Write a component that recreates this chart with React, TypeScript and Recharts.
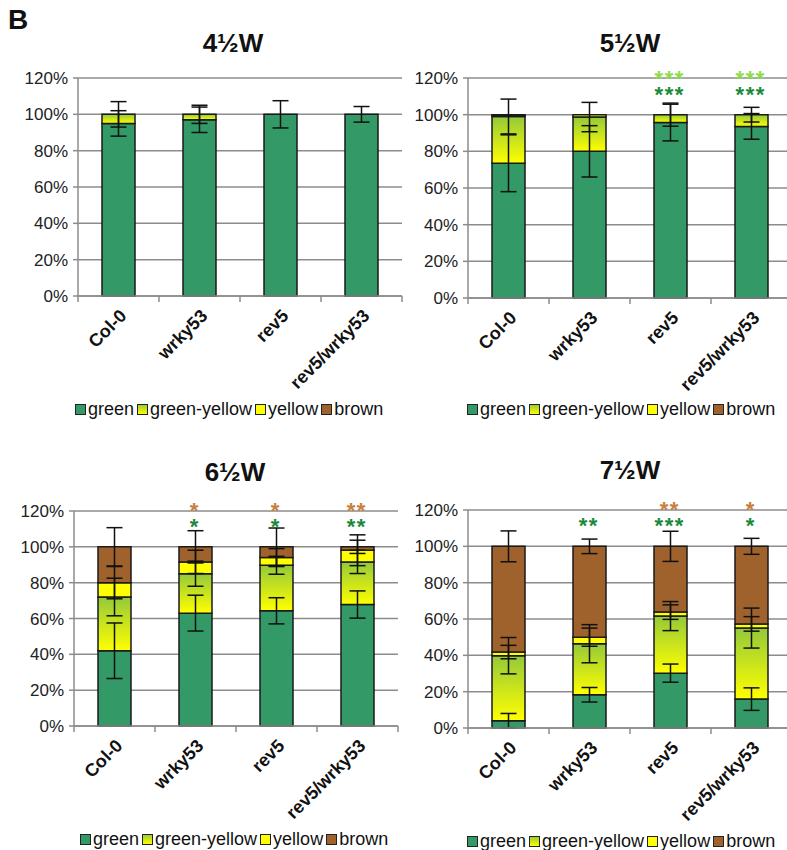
import { BarChart, Bar, XAxis, YAxis, CartesianGrid, ErrorBar, LabelList } from 'recharts';

const categories = ['Col-0', 'wrky53', 'rev5', 'rev5/wrky53'];
const yTicks = [0, 20, 40, 60, 80, 100, 120];

// 4½W
const w4Green = [95, 97, 100, 100];
const w4GreenYellow = [5, 3, 0, 0];
const w4Yellow = [0, 0, 0, 0];
const w4Brown = [0, 0, 0, 0];
const w4GreenErr = [7, 7, 7.5, 4.3];
const w4GreenYellowErr = [7, 5, 0, 0];
const w4YellowErr = [0, 0, 0, 0];
const w4BrownErr = [0, 0, 0, 0];
const w4SigLow = ['', '', '', ''];
const w4SigHigh = ['', '', '', ''];

// 5½W
const w5Green = [73.5, 80, 95.7, 93.6];
const w5GreenYellow = [25.5, 18.7, 4.3, 6.4];
const w5Yellow = [0.5, 1.3, 0, 0];
const w5Brown = [0.5, 0, 0, 0];
const w5GreenErr = [15.5, 14, 10, 7];
const w5GreenYellowErr = [9.5, 8, 6.3, 4];
const w5YellowErr = [0, 0, 0, 0];
const w5BrownErr = [0, 0, 0, 0];
const w5SigLow = ['', '', '***', '***'];
const w5SigHigh = ['', '', '***', '***'];

// 6½W
const w6Green = [42, 63, 64.3, 67.8];
const w6GreenYellow = [30, 22, 25.4, 23.8];
const w6Yellow = [8, 6.6, 4.3, 6.5];
const w6Brown = [20, 8.4, 6, 1.9];
const w6GreenErr = [15.5, 10, 7.3, 7.6];
const w6GreenYellowErr = [10.5, 7, 5, 6.5];
const w6YellowErr = [9, 6.5, 5, 8.6];
const w6BrownErr = [10.7, 9, 10.5, 3.7];
const w6SigLow = ['', '*', '*', '**'];
const w6SigHigh = ['', '*', '*', '**'];

// 7½W
const w7Green = [4, 18.3, 30.2, 15.9];
const w7GreenYellow = [35.8, 28.1, 31.4, 39.1];
const w7Yellow = [2, 3.6, 2.2, 2.3];
const w7Brown = [58.2, 50, 36.2, 42.7];
const w7GreenErr = [4, 4, 5, 6.2];
const w7GreenYellowErr = [10, 10.5, 8, 11];
const w7YellowErr = [3.7, 5, 4, 4];
const w7BrownErr = [8.5, 4, 8.3, 4.4];
const w7SigLow = ['', '**', '***', '*'];
const w7SigHigh = ['', '', '**', '*'];

const GREEN = '#339966';
const YELLOW = '#ffff00';
const BROWN = '#a0622d';
const GRID = '#8c8c8c';
const FONT = 'Arial, "Liberation Sans", sans-serif';
const BAND = 81;

const buildRows = (g: number[], gy: number[], y: number[], b: number[], ge: number[], gye: number[], ye: number[], be: number[], sl: string[], sh: string[]) =>
  categories.map((name, i) => ({
    name,
    green: g[i], greenYellow: gy[i], yellow: y[i], brown: b[i],
    greenErr: ge[i], greenYellowErr: gye[i], yellowErr: ye[i], brownErr: be[i],
    sigLow: sl[i], sigHigh: sh[i],
  }));

const panels = [
  { id: 'p1', title: '4½W', plotLeft: 78, plotTop: 78, plotBottom: 296, titleX: 233, titleY: 43, legendX: 75, legendY: 410, lowColor: '#1b8a3a', highColor: '#8fdc4f',
    rows: buildRows(w4Green, w4GreenYellow, w4Yellow, w4Brown, w4GreenErr, w4GreenYellowErr, w4YellowErr, w4BrownErr, w4SigLow, w4SigHigh) },
  { id: 'p2', title: '5½W', plotLeft: 468, plotTop: 78, plotBottom: 298, titleX: 630, titleY: 43, legendX: 467, legendY: 410, lowColor: '#1b8a3a', highColor: '#8fdc4f',
    rows: buildRows(w5Green, w5GreenYellow, w5Yellow, w5Brown, w5GreenErr, w5GreenYellowErr, w5YellowErr, w5BrownErr, w5SigLow, w5SigHigh) },
  { id: 'p3', title: '6½W', plotLeft: 74, plotTop: 511, plotBottom: 726, titleX: 235, titleY: 472, legendX: 80, legendY: 840, lowColor: '#1b8a3a', highColor: '#c8813c',
    rows: buildRows(w6Green, w6GreenYellow, w6Yellow, w6Brown, w6GreenErr, w6GreenYellowErr, w6YellowErr, w6BrownErr, w6SigLow, w6SigHigh) },
  { id: 'p4', title: '7½W', plotLeft: 468, plotTop: 510, plotBottom: 728, titleX: 630, titleY: 470, legendX: 467, legendY: 842, lowColor: '#1b8a3a', highColor: '#c8813c',
    rows: buildRows(w7Green, w7GreenYellow, w7Yellow, w7Brown, w7GreenErr, w7GreenYellowErr, w7YellowErr, w7BrownErr, w7SigLow, w7SigHigh) },
];

const CategoryTick = ({ x, y, payload, index }: any) => (
  <g>
    <line x1={x - BAND / 2} y1={y} x2={x - BAND / 2} y2={y + 6} stroke={GRID} strokeWidth={1.5} />
    {index === 3 && <line x1={x + BAND / 2} y1={y} x2={x + BAND / 2} y2={y + 6} stroke={GRID} strokeWidth={1.5} />}
    <text x={x + 9} y={y + 21} textAnchor="end" transform={`rotate(-45, ${x + 9}, ${y + 21})`}
      fontFamily={FONT} fontWeight="bold" fontSize={18} fill="#111">{payload.value}</text>
  </g>
);

const legendItems = [
  { label: 'green', bg: GREEN },
  { label: 'green-yellow', bg: 'linear-gradient(#9ccc34, #ffff00)' },
  { label: 'yellow', bg: YELLOW },
  { label: 'brown', bg: BROWN },
];

function Panel({ p }: any) {
  const top = 30;
  const plotH = p.plotBottom - p.plotTop;
  // asterisks sit above the 100% stack top, found from the green bar's own geometry
  const sigLabel = (props: any) => {
    const { x, y, width, height, index } = props;
    const row = p.rows[index];
    if (!row.sigLow && !row.sigHigh) return null;
    const yTop = y + height - (100 * height) / row.green;
    const cx = x + width / 2 - 0.8;
    const style = { fontFamily: FONT, fontWeight: 'bold', fontSize: 22, letterSpacing: 1.5 } as any;
    return (
      <g>
        {row.sigLow && <text x={cx} y={yTop - 13} textAnchor="middle" style={style} fill={p.lowColor}>{row.sigLow}</text>}
        {row.sigHigh && <text x={cx} y={yTop - 29} textAnchor="middle" style={style} fill={p.highColor}>{row.sigHigh}</text>}
      </g>
    );
  };
  return (
    <>
      <div style={{ position: 'absolute', left: p.titleX, top: p.titleY, transform: 'translate(-50%, -50%)', fontFamily: FONT, fontWeight: 'bold', fontSize: 26, color: '#111', whiteSpace: 'nowrap' }}>{p.title}</div>
      <div style={{ position: 'absolute', left: p.plotLeft - 78, top: p.plotTop - top }}>
        <BarChart width={78 + 4 * BAND + 10} height={top + plotH + 100} data={p.rows} margin={{ top, right: 10, bottom: 0, left: 0 }} barSize={33}>
          <defs>
            <linearGradient id={`gy-${p.id}`} x1="0" y1="0" x2="0" y2="1">
              <stop offset="0%" stopColor="#94c93a" />
              <stop offset="100%" stopColor="#ffff00" />
            </linearGradient>
          </defs>
          <CartesianGrid vertical={false} stroke={GRID} strokeWidth={1.5} />
          <XAxis dataKey="name" height={100} interval={0} tick={<CategoryTick />} tickLine={false} tickSize={0} tickMargin={0} axisLine={{ stroke: GRID, strokeWidth: 1.5 }} />
          <YAxis domain={[0, 120]} ticks={yTicks} width={78} tickFormatter={(v) => `${v}%`} tickSize={5} tickMargin={5}
            tick={{ fontFamily: FONT, fontSize: 17, fill: '#222' }} tickLine={{ stroke: GRID, strokeWidth: 1.5 }} axisLine={{ stroke: GRID, strokeWidth: 1.5 }} />
          <Bar dataKey="green" stackId="s" fill={GREEN} stroke="#1a1a1a" strokeWidth={1.5} isAnimationActive={false}>
            <ErrorBar dataKey="greenErr" direction="y" width={8} stroke="#111" strokeWidth={1.5} />
            <LabelList dataKey="sigLow" content={sigLabel} />
          </Bar>
          <Bar dataKey="greenYellow" stackId="s" fill={`url(#gy-${p.id})`} stroke="#1a1a1a" strokeWidth={1.5} isAnimationActive={false}>
            <ErrorBar dataKey="greenYellowErr" direction="y" width={8} stroke="#111" strokeWidth={1.5} />
          </Bar>
          <Bar dataKey="yellow" stackId="s" fill={YELLOW} stroke="#1a1a1a" strokeWidth={1.5} isAnimationActive={false}>
            <ErrorBar dataKey="yellowErr" direction="y" width={8} stroke="#111" strokeWidth={1.5} />
          </Bar>
          <Bar dataKey="brown" stackId="s" fill={BROWN} stroke="#1a1a1a" strokeWidth={1.5} isAnimationActive={false}>
            <ErrorBar dataKey="brownErr" direction="y" width={8} stroke="#111" strokeWidth={1.5} />
          </Bar>
        </BarChart>
      </div>
      <div style={{ position: 'absolute', left: p.legendX, top: p.legendY - 11, display: 'flex', alignItems: 'center', fontFamily: FONT, fontSize: 18, color: '#111', whiteSpace: 'nowrap' }}>
        {legendItems.map((it) => (
          <span key={it.label} style={{ display: 'flex', alignItems: 'center', marginRight: 3 }}>
            <span style={{ display: 'inline-block', width: 9, height: 9, border: '1px solid #222', background: it.bg, marginRight: 2 }} />
            {it.label}
          </span>
        ))}
      </div>
    </>
  );
}

export default function App() {
  return (
    <div style={{ position: 'absolute', left: 0, top: 0, width: 787, height: 850, overflow: 'hidden', background: '#fff' }}>
      <div style={{ position: 'absolute', left: 8, top: 4, fontFamily: FONT, fontWeight: 'bold', fontSize: 28, color: '#111' }}>B</div>
      {panels.map((p) => <Panel key={p.id} p={p} />)}
    </div>
  );
}
